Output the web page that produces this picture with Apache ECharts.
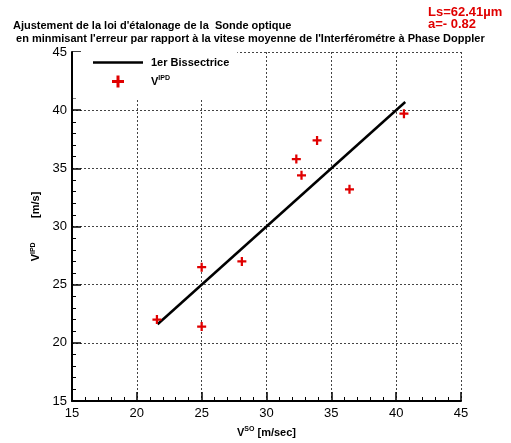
<!DOCTYPE html>
<html><head><meta charset="utf-8">
<script src="https://cdn.jsdelivr.net/npm/echarts@6/dist/echarts.min.js"></script>
<style>html,body{margin:0;padding:0;background:#fff}#c{width:511px;height:443px}</style>
</head><body><div id="c"></div>
<script>
const vSO  = [21.55, 25.0, 25.0, 28.1, 32.3, 32.7, 33.9, 36.4, 40.6];
const vIPD = [22.0, 21.4, 26.5, 27.0, 35.8, 34.4, 37.4, 33.2, 39.7];
const bisX = [21.6, 40.7];
const bisY = [21.6, 40.7];
const xTicks = [15, 20, 25, 30, 35, 40, 45];
const yTicks = [15, 20, 25, 30, 35, 40, 45];
const titleLines = ["Ajustement de la loi d'étalonage de la  Sonde optique",
  " en minmisant l'erreur par rapport à la vitese moyenne de l'Interférométre à Phase Doppler"];
const noteLines = ["Ls=62.41µm", "a=- 0.82"];

const FONT = '"Liberation Sans", Arial, sans-serif';
const plus = 'path://M-1,-4L1,-4L1,-1L4,-1L4,1L1,1L1,4L-1,4L-1,1L-4,1L-4,-1L-1,-1Z';
const lineIcon = 'path://M0,0L40,0L40,2L0,2Z';
const chart = echarts.init(document.getElementById('c'), null, {renderer: 'canvas'});
const axisCommon = (ticks) => ({
  type: 'value', min: ticks[0], max: ticks[ticks.length - 1], interval: ticks[1] - ticks[0],
  axisLine: {show: true, onZero: false, lineStyle: {color: '#000', width: 2}},
  axisTick: {show: true, inside: true, length: 9, lineStyle: {color: '#000', width: 1.5}},
  minorTick: {show: true, splitNumber: 5, length: 4, lineStyle: {color: '#000', width: 1}},
  splitLine: {show: true, lineStyle: {color: '#444', width: 1, type: [2, 2]}},
  axisLabel: {color: '#000', fontSize: 13, fontFamily: FONT},
  nameTextStyle: {color: '#000', fontFamily: FONT}
});
const nameRich = {
  b: {fontSize: 11, fontWeight: 'bold', fontFamily: FONT, color: '#000'},
  s: {fontSize: 7, fontWeight: 'bold', fontFamily: FONT, color: '#000', verticalAlign: 'top', padding: [0, 0, 6, 0]}
};
chart.setOption({
  animation: false,
  backgroundColor: '#fff',
  title: [
    {text: titleLines.join('\n'), left: 8, top: 14,
     textStyle: {fontSize: 11, fontWeight: 'bold', fontFamily: FONT, color: '#000', lineHeight: 13}},
    {text: noteLines.join('\n'), left: 423, top: 1,
     textStyle: {fontSize: 13, fontWeight: 'bold', fontFamily: FONT, color: '#e00000', lineHeight: 12}}
  ],
  grid: {left: 72, right: 50, top: 52, bottom: 37, containLabel: false},
  legend: {
    orient: 'vertical', left: 73, top: 52, itemWidth: 50, itemHeight: 12, itemGap: 7,
    padding: [5, 8, 11, 20], backgroundColor: '#fff',
    data: [{name: '1er Bissectrice', icon: lineIcon}, {name: 'VIPD'}],
    formatter: n => n === 'VIPD' ? '{b|V}{s|IPD}' : '{b|' + n + '}',
    textStyle: {rich: nameRich, padding: [0, 0, 0, 3]}
  },
  xAxis: Object.assign(axisCommon(xTicks), {
    name: '{b|V}{s|SO}{b| [m/sec]}', nameLocation: 'middle', nameGap: 25,
    axisLabel: {color: '#000', fontSize: 13, fontFamily: FONT, margin: 6},
    nameTextStyle: {rich: nameRich}
  }),
  yAxis: Object.assign(axisCommon(yTicks), {
    name: '{b|V}{s|IPD}{b|        [m/s]}', nameLocation: 'middle', nameGap: 29, nameRotate: 90,
    axisLabel: {color: '#000', fontSize: 13, fontFamily: FONT, margin: 5},
    nameTextStyle: {rich: nameRich}
  }),
  series: [
    {name: '1er Bissectrice', type: 'line', symbol: 'none', z: 3,
     lineStyle: {color: '#000', width: 2.5},
     itemStyle: {color: '#000'},
     data: bisX.map((x, i) => [x, bisY[i]])},
    {name: 'VIPD', type: 'scatter', symbol: plus, symbolSize: 9, z: 4,
     itemStyle: {color: '#e00000', opacity: 1},
     data: vSO.map((x, i) => [x, vIPD[i]])}
  ]
});
</script></body></html>
